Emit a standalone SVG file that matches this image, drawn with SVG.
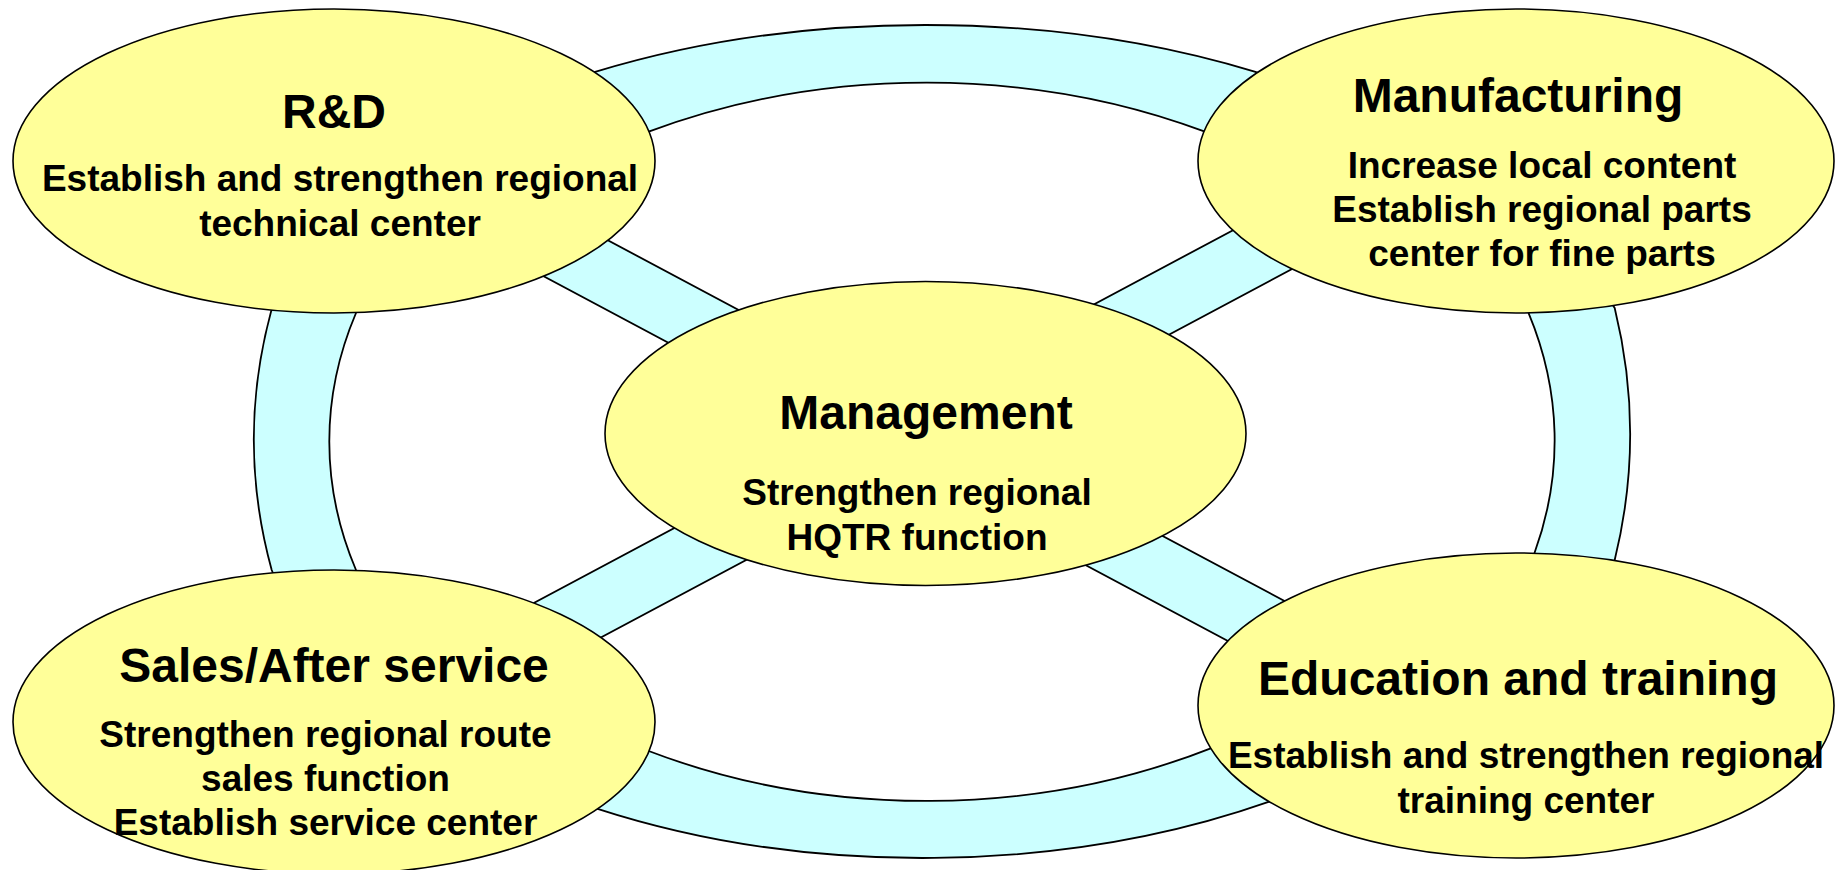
<svg xmlns="http://www.w3.org/2000/svg" width="1836" height="870" viewBox="0 0 1836 870">
  <style>
    .node { fill: #FFFF99; stroke: #000000; stroke-width: 1.6; }
    .band { fill: #CCFFFF; stroke: #000000; stroke-width: 1.8; stroke-linejoin: round; }
    .hole { fill: #FFFFFF; stroke: #000000; stroke-width: 1.8; stroke-linejoin: round; }
    text { font-family: "Liberation Sans", Arial, sans-serif; font-weight: bold; fill: #000000; text-anchor: middle; }
    .title { font-size: 48px; }
    .sub { font-size: 37px; }
  </style>
  <rect x="0" y="0" width="1836" height="870" fill="#FFFFFF"/>

  <!-- ring and spokes linking the five functions; ring sections that run
       under the outer nodes are closed off through the node interiors -->
  <g id="connectors">
    <path class="band" d="M 596 71.7
      A 688 383 0 0 1 1254.6 71.7
      L 1516 161 L 1614.7 308
      A 688 600.7 0 0 1 1614.7 560
      L 1516 705.5 L 1269.3 801.7
      A 688 414 0 0 1 596 808.3
      L 334 722 L 271.7 570
      A 688 579 0 0 1 271 311.7
      L 334 161 Z"/>
    <path class="hole" d="M 648.7 131.7
      A 612.5 449.5 0 0 1 1204.9 131.7
      L 1516 161 L 1528.7 313.3
      A 612.5 442 0 0 1 1534.5 553
      L 1516 705.5 L 1210.7 748.3
      A 612.5 460 0 0 1 648.7 751
      L 334 722 L 356 570
      A 612.5 440 0 0 1 356 313
      L 334 161 Z"/>
    <g transform="translate(911 437) rotate(28.06)">
      <rect class="band" x="-480" y="-31" width="960" height="62"/>
    </g>
    <g transform="translate(911 437) rotate(-28.06)">
      <rect class="band" x="-480" y="-31" width="960" height="62"/>
    </g>
  </g>

  <g id="rnd">
    <ellipse class="node" cx="334" cy="161" rx="321" ry="152"/>
    <text class="title" x="334" y="128">R&amp;D</text>
    <text class="sub" x="340" y="191">Establish and strengthen regional</text>
    <text class="sub" x="340" y="236">technical center</text>
  </g>

  <g id="manufacturing">
    <ellipse class="node" cx="1516" cy="161" rx="318" ry="152"/>
    <text class="title" x="1518" y="112">Manufacturing</text>
    <text class="sub" x="1542" y="178">Increase local content</text>
    <text class="sub" x="1542" y="222">Establish regional parts</text>
    <text class="sub" x="1542" y="266">center for fine parts</text>
  </g>

  <g id="management">
    <ellipse class="node" cx="925.5" cy="433.5" rx="320.5" ry="152"/>
    <text class="title" x="926" y="429">Management</text>
    <text class="sub" x="917" y="505">Strengthen regional</text>
    <text class="sub" x="917" y="550">HQTR function</text>
  </g>

  <g id="sales">
    <ellipse class="node" cx="334" cy="722" rx="321" ry="152"/>
    <text class="title" x="334" y="682">Sales/After service</text>
    <text class="sub" x="325.5" y="747">Strengthen regional route</text>
    <text class="sub" x="325.5" y="791">sales function</text>
    <text class="sub" x="325.5" y="835">Establish service center</text>
  </g>

  <g id="education">
    <ellipse class="node" cx="1516" cy="705.5" rx="318" ry="152.5"/>
    <text class="title" x="1518" y="695">Education and training</text>
    <text class="sub" x="1526" y="768">Establish and strengthen regional</text>
    <text class="sub" x="1526" y="813">training center</text>
  </g>
</svg>
